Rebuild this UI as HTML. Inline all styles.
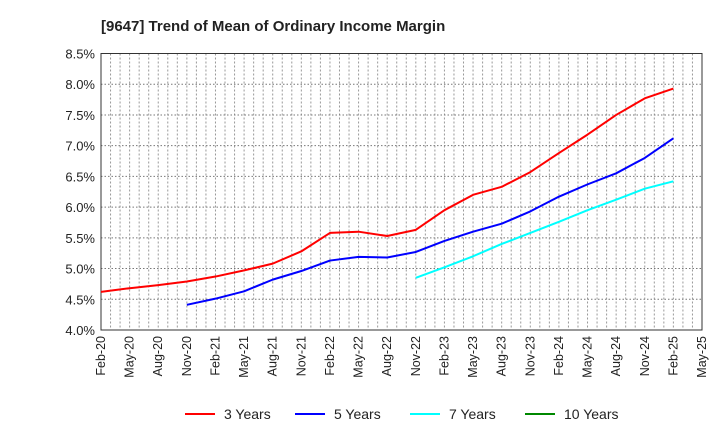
<!DOCTYPE html>
<html><head><meta charset="utf-8"><style>
body{margin:0;background:#fff;font-family:"Liberation Sans",Arial,sans-serif}
</style></head><body>
<svg id="chart" width="720" height="440" xmlns="http://www.w3.org/2000/svg" font-family="Liberation Sans, Arial, sans-serif">
<text x="101" y="31" font-size="15" font-weight="bold" fill="#222">[9647]  Trend of Mean of Ordinary Income Margin</text>
<g id="grid"></g><g id="axes"></g><g id="series"></g>
<g font-size="14" fill="#222">
<line x1="185" y1="414" x2="215" y2="414" stroke="#f00" stroke-width="2"/><text x="224" y="419">3 Years</text>
<line x1="295" y1="414" x2="325" y2="414" stroke="#00f" stroke-width="2"/><text x="334" y="419">5 Years</text>
<line x1="410" y1="414" x2="440" y2="414" stroke="#0ff" stroke-width="2"/><text x="449" y="419">7 Years</text>
<line x1="525" y1="414" x2="555" y2="414" stroke="#080" stroke-width="2"/><text x="564" y="419">10 Years</text>
</g>
</svg>
<script>
const xLabels=["Feb-20","May-20","Aug-20","Nov-20","Feb-21","May-21","Aug-21","Nov-21","Feb-22","May-22","Aug-22","Nov-22","Feb-23","May-23","Aug-23","Nov-23","Feb-24","May-24","Aug-24","Nov-24","Feb-25","May-25"];
const yTicks=[4.0,4.5,5.0,5.5,6.0,6.5,7.0,7.5,8.0,8.5];
const s3start=0;
const s3=[4.62,4.68,4.73,4.79,4.87,4.97,5.08,5.28,5.58,5.60,5.53,5.63,5.95,6.20,6.33,6.57,6.88,7.18,7.50,7.77,7.93];
const s5start=3;
const s5=[4.41,4.51,4.63,4.82,4.96,5.13,5.19,5.18,5.27,5.45,5.60,5.73,5.93,6.17,6.37,6.55,6.80,7.12];
const s7start=11;
const s7=[4.85,5.02,5.20,5.40,5.58,5.76,5.95,6.12,6.30,6.42];
const L=101,R=702,T=53.5,B=330;
const NS="http://www.w3.org/2000/svg";
const x=i=>L+(R-L)*i/(xLabels.length-1);
const y=v=>B-(v-4.0)/(4.5)*(B-T);
function mk(tag,at,parent){const e=document.createElementNS(NS,tag);for(const k in at)e.setAttribute(k,at[k]);parent.appendChild(e);return e;}
const grid=document.getElementById('grid'),axes=document.getElementById('axes'),ser=document.getElementById('series');
for(let m=1;m<(xLabels.length-1)*3;m++){const xx=L+(R-L)*m/((xLabels.length-1)*3);
const g=mk('line',{x1:xx,x2:xx,y1:T,y2:B,stroke:'#999','stroke-dasharray':'2,2','stroke-width':1},grid);
}
yTicks.forEach(v=>{const g=mk('line',{x1:L,x2:R,y1:y(v),y2:y(v),stroke:'#777','stroke-dasharray':'1.5,2','stroke-width':1},grid);

const t=mk('text',{x:L-6,y:y(v)+5,'text-anchor':'end','font-size':13,fill:'#222'},axes);t.textContent=v.toFixed(1)+'%';
});
xLabels.forEach((lb,i)=>{const t=mk('text',{transform:`translate(${x(i)+4},336) rotate(-90)`,'text-anchor':'end','font-size':12.5,fill:'#222'},axes);t.textContent=lb;
});
const fr=mk('rect',{x:L,y:T,width:R-L,height:B-T,fill:'none',stroke:'#333','stroke-width':1},axes);

function line(data,start,color,name){const p=mk('polyline',{points:data.map((v,i)=>x(start+i)+','+y(v)).join(' '),fill:'none',stroke:color,'stroke-width':2,'stroke-linejoin':'round'},ser);
}
line(s3,s3start,'#f00','series-3-years');
line(s5,s5start,'#00f','series-5-years');
line(s7,s7start,'#0ff','series-7-years');
</script>
</body></html>
